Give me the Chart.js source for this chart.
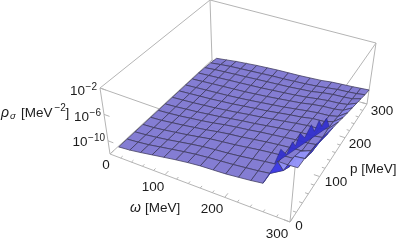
<!DOCTYPE html>
<html><head><meta charset="utf-8">
<style>html,body{margin:0;padding:0;background:#fff}canvas{display:block}</style>
<script src="https://cdn.jsdelivr.net/npm/chart.js@4/dist/chart.umd.js"></script>
</head><body><canvas id="c" width="399" height="244"></canvas>
<script>
// ---- data (MeV and log10 of rho) ----
const omegaValues = [10,31,51,72,93,114,134,155,176,196,216,235,253,272,286,300];
const pValues     = [10,31,51,72,93,114,134,155,176,196,217,238,259,279,300];
const logRho = [
[-11.2,-11.05,-10.8,-10.5,-10.2,-9.9,-9.65,-9.45,-9.35,-9.25,-9.05,-8.85,-8.6,-4.5,-4.5,-4.4],
[-11.2,-11.05,-10.85,-10.55,-10.25,-9.95,-9.7,-9.5,-9.35,-9.2,-9.0,-8.8,-8.55,-7.4,-4.7,-4.5],
[-11.2,-11.05,-10.85,-10.6,-10.3,-10.0,-9.75,-9.55,-9.4,-9.2,-8.95,-8.7,-8.5,-8.2,-5.3,-4.7],
[-11.2,-11.1,-10.9,-10.65,-10.4,-10.1,-9.8,-9.6,-9.4,-9.15,-8.9,-8.7,-8.55,-8.4,-7.8,-5.0],
[-11.2,-11.1,-10.9,-10.7,-10.45,-10.2,-9.9,-9.65,-9.45,-9.2,-8.95,-8.75,-8.6,-8.5,-8.3,-5.6],
[-11.2,-11.1,-10.95,-10.75,-10.55,-10.3,-10.0,-9.75,-9.55,-9.3,-9.1,-8.9,-8.7,-8.6,-8.4,-6.2],
[-11.2,-11.1,-10.95,-10.8,-10.6,-10.4,-10.15,-9.9,-9.7,-9.45,-9.2,-9.0,-8.8,-8.7,-8.5,-6.5],
[-11.2,-11.1,-11.0,-10.85,-10.7,-10.5,-10.3,-10.05,-9.85,-9.6,-9.35,-9.1,-8.9,-8.8,-8.4,-6.9],
[-11.2,-11.1,-11.0,-10.9,-10.75,-10.6,-10.4,-10.2,-10.0,-9.75,-9.5,-9.3,-9.0,-8.9,-8.5,-7.4],
[-11.2,-11.1,-11.0,-10.9,-10.8,-10.65,-10.5,-10.3,-10.1,-9.9,-9.65,-9.4,-9.2,-9.1,-8.8,-7.8],
[-11.2,-11.1,-11.0,-10.9,-10.8,-10.7,-10.55,-10.4,-10.2,-10.0,-9.8,-9.5,-9.3,-9.2,-9.0,-8.2],
[-11.2,-11.1,-11.0,-10.9,-10.8,-10.7,-10.6,-10.45,-10.3,-10.15,-9.95,-9.7,-9.5,-9.4,-9.2,-8.6],
[-11.25,-11.1,-11.0,-10.9,-10.8,-10.7,-10.6,-10.5,-10.4,-10.25,-10.1,-9.8,-9.6,-9.5,-9.4,-9.0],
[-11.35,-11.15,-11.0,-10.9,-10.8,-10.7,-10.6,-10.55,-10.45,-10.35,-10.2,-10.0,-9.8,-9.7,-9.6,-9.4],
[-11.5,-11.3,-11.1,-10.95,-10.8,-10.7,-10.6,-10.55,-10.5,-10.4,-10.3,-10.1,-10.0,-9.9,-9.8,-9.7]
];
// spikes along the ridge: base, tip, base, ... (omega, p, log10 rho)
const ridgeOmega = [268,271,274,276,277,279,281,284,287,290,292,295,298];
const ridgeP     = [ 10, 20, 33, 45, 54, 62, 75, 88, 94,100,108,115,122];
const ridgeLog   = [-5.0,-3.4,-5.0,-3.8,-5.0,-3.5,-5.0,-3.7,-5.0,-3.6,-5.0,-4.0,-5.6];
const omegaTicks = [0,100,200,300];
const pTicks     = [0,100,200,300];
const logTicks   = [-2,-6,-10];

// ---- view ----
const LOG_MIN = -12, LOG_MAX = -2, AXIS_MAX = 300;
const floorCorners = [[110,154],[290,222],[367,104],[212,60]];
const topCorners   = [[100,88],[296,157],[376,43],[210,0]];
function homography(q){
  const [[x0,y0],[x1,y1],[x2,y2],[x3,y3]] = q;
  const sx=x0-x1+x2-x3, sy=y0-y1+y2-y3, dx1=x1-x2, dx2=x3-x2, dy1=y1-y2, dy2=y3-y2;
  const det=dx1*dy2-dx2*dy1, g=(sx*dy2-dx2*sy)/det, h=(dx1*sy-sx*dy1)/det;
  const a=x1-x0+g*x1, b=x3-x0+h*x3, d=y1-y0+g*y1, e=y3-y0+h*y3;
  return (u,v)=>{const w=g*u+h*v+1;return [(a*u+b*v+x0)/w,(d*u+e*v+y0)/w];};
}
const hFloor=homography(floorCorners), hTop=homography(topCorners);
function project(om,p,lg){
  const u=om/AXIS_MAX, v=p/AXIS_MAX, t=(lg-LOG_MIN)/(LOG_MAX-LOG_MIN);
  const a=hFloor(u,v), b=hTop(u,v);
  return {x:a[0]+(b[0]-a[0])*t, y:a[1]+(b[1]-a[1])*t};
}

const datasets=[];
const BOX='#b4b4b4';
function addLine(pts,color,width,order){
  datasets.push({data:pts,showLine:true,pointRadius:0,borderColor:color,borderWidth:width,fill:false,order:order,tension:0});
}
// box edges (behind the surface)
const c=[[0,0],[AXIS_MAX,0],[AXIS_MAX,AXIS_MAX],[0,AXIS_MAX]];
for(let i=0;i<4;i++){
  const [a,b]=c[i],[d,e]=c[(i+1)%4];
  addLine([project(a,b,LOG_MIN),project(d,e,LOG_MIN)],BOX,1,5000);
  addLine([project(a,b,LOG_MAX),project(d,e,LOG_MAX)],BOX,1,5000);
  addLine([project(a,b,LOG_MIN),project(a,b,LOG_MAX)],BOX,1,5000);
}
// tick marks
for(let t=0;t<=AXIS_MAX;t+=20){
  const len=t%100===0?9:5;
  addLine([project(t,0,LOG_MIN),project(t,len,LOG_MIN)],BOX,1,5000);
  addLine([project(AXIS_MAX,t,LOG_MIN),project(AXIS_MAX-len,t,LOG_MIN)],BOX,1,5000);
}
logTicks.forEach(l=>addLine([project(0,0,l),project(10,0,l)],BOX,1,5000));

// surface faces, far to near
function faceColor(dOm,avg){
  if(dOm>2) return 'rgba(62,60,228,0.97)';
  if(avg>-7) return 'rgba(146,146,248,0.97)';
  if(dOm>0.7) return 'rgba(132,128,230,0.95)';
  return 'rgba(123,115,208,0.93)';
}
for(let j=0;j<pValues.length-1;j++){
  for(let i=0;i<omegaValues.length-1;i++){
    const z=logRho;
    const dOm=((z[j][i+1]+z[j+1][i+1])-(z[j][i]+z[j+1][i]))/2;
    const avg=(z[j][i]+z[j][i+1]+z[j+1][i]+z[j+1][i+1])/4;
    const pts=[[i,j],[i+1,j],[i+1,j+1],[i,j+1],[i,j]].map(([a,b])=>project(omegaValues[a],pValues[b],z[b][a]));
    const wedge=dOm<=2&&avg>-7;
    datasets.push({data:pts,showLine:true,pointRadius:0,fill:'shape',tension:0,
      backgroundColor:faceColor(dOm,avg),
      borderColor:dOm>2?'rgba(50,50,130,0.55)':'rgba(62,58,92,0.85)',borderWidth:0.9,
      order:(wedge?500:2000)+(j-i)*2+(j*0.01)});
  }
}
// ridge spikes, between the step and the wedge in front of it
const ridgePts=ridgeOmega.map((o,k)=>project(o,ridgeP[k],ridgeLog[k]));
datasets.push({data:ridgePts.concat([ridgePts[0]]),showLine:true,pointRadius:0,fill:'shape',tension:0,
  backgroundColor:'rgba(52,50,205,0.95)',borderColor:'rgba(40,40,120,0.9)',borderWidth:0.6,order:700});

// ---- text ----
const FONT='"Liberation Sans", Arial, sans-serif';
const plainLabels=[
 ['0',106,165],['100',153,187],['200',212,209],['300',277,234],
 ['0',299,226],['100',336,182],['200',360,144],['300',382,111]
];
const logLabelPos={'-2':[97,91],'-6':[101,117],'-10':[105,142]};
const textPlugin={id:'text',afterDraw(ch){
  const x=ch.ctx;x.save();x.fillStyle='#1c1c1c';x.textBaseline='middle';x.textAlign='center';
  x.font='13.5px '+FONT;
  plainLabels.forEach(([s,a,b])=>x.fillText(s,a,b));
  x.textAlign='left';
  x.fillText('p [MeV]',350,169);
  // omega label
  x.font='italic 14px '+FONT;x.fillText('ω',130,208);
  x.font='13.5px '+FONT;x.fillText('[MeV]',145,208);
  // z tick labels
  logTicks.forEach(l=>{
    const [r,y]=logLabelPos[l];
    const e='−'+Math.abs(l);
    x.font='10px '+FONT;const w=x.measureText(e).width;
    x.textAlign='left';x.fillText(e,r-w,y-4);
    x.font='13.5px '+FONT;x.fillText('10',r-w-15.5,y);
  });
  // z axis label
  x.font='italic 14px '+FONT;x.fillText('ρ',1,113);
  x.font='italic 9.5px '+FONT;x.fillText('σ',10,116);
  x.font='13.5px '+FONT;x.fillText('[MeV',21,113);
  x.font='10px '+FONT;x.fillText('−2',54.5,108);
  x.font='13.5px '+FONT;x.fillText(']',65.5,113);
  x.restore();
}};

new Chart(document.getElementById('c'),{
  type:'scatter',
  data:{datasets},
  options:{responsive:false,animation:false,events:[],
    layout:{padding:0},
    plugins:{legend:{display:false},tooltip:{enabled:false},title:{display:false}},
    scales:{
      x:{type:'linear',min:0,max:399,display:false},
      y:{type:'linear',min:0,max:244,reverse:true,display:false}
    }},
  plugins:[textPlugin]
});
</script></body></html>
